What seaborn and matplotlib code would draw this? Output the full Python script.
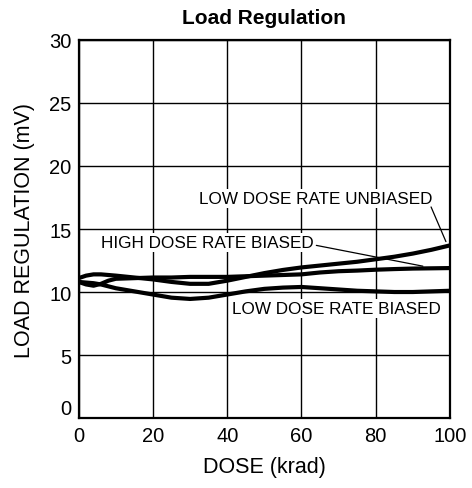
import matplotlib
matplotlib.use("Agg")
import matplotlib.pyplot as plt
import seaborn as sns
import pandas as pd

# values
doses = [0, 2, 4, 6, 8, 10, 15, 20, 25, 30, 35, 40, 45, 50, 55, 60, 65, 70, 75, 80, 85, 90, 95, 100]
low_unbiased = [11.1, 11.3, 11.4, 11.4, 11.35, 11.3, 11.15, 11.0, 10.8, 10.65, 10.65, 10.9,
                11.2, 11.5, 11.75, 11.95, 12.1, 12.25, 12.4, 12.6, 12.8, 13.05, 13.35, 13.7]
high_biased = [10.8, 10.6, 10.5, 10.65, 10.9, 11.05, 11.1, 11.15, 11.15, 11.2, 11.2, 11.2,
               11.25, 11.3, 11.35, 11.4, 11.55, 11.65, 11.7, 11.77, 11.82, 11.86, 11.88, 11.9]
low_biased = [10.8, 10.75, 10.7, 10.6, 10.45, 10.3, 10.05, 9.8, 9.55, 9.45, 9.55, 9.8,
              10.05, 10.25, 10.35, 10.4, 10.3, 10.2, 10.1, 10.05, 10.0, 10.0, 10.05, 10.1]
series_names = ["LOW DOSE RATE UNBIASED", "HIGH DOSE RATE BIASED", "LOW DOSE RATE BIASED"]
x_ticks = [0, 20, 40, 60, 80, 100]
y_ticks = [0, 5, 10, 15, 20, 25, 30]

df = pd.DataFrame({
    "dose": doses * 3,
    "reg": low_unbiased + high_biased + low_biased,
    "series": [series_names[0]] * len(doses) + [series_names[1]] * len(doses) + [series_names[2]] * len(doses),
})

sns.set_style("white")
plt.rcParams["font.family"] = ["Liberation Sans", "DejaVu Sans"]
plt.rcParams["text.color"] = "black"
plt.rcParams["axes.labelcolor"] = "black"

fig = plt.figure(figsize=(4.72, 4.89), dpi=100)
ax = fig.add_axes([0.1667, 0.1431, 0.7867, 0.7731])

sns.lineplot(data=df, x="dose", y="reg", hue="series", palette=["black"] * 3,
             linewidth=3.0, legend=False, ax=ax, zorder=3)

ax.set_xlim(0, 100)
ax.set_ylim(0, 30)
ax.set_xticks(x_ticks)
ax.set_yticks(y_ticks)
ax.grid(True, color="black", linewidth=1.0)
ax.set_axisbelow(True)
for s in ax.spines.values():
    s.set_color("black")
    s.set_linewidth(1.6)
ax.tick_params(length=0, labelsize=14.5, colors="black")
ax.tick_params(axis="x", pad=6)
ax.tick_params(axis="y", pad=5)
# the zero on the y axis sits a little higher in the original
ax.get_yticklabels()[0].set_va("bottom")

ax.set_title("Load Regulation", fontsize=15, fontweight="bold", pad=12, color="black")
ax.set_xlabel("DOSE (krad)", fontsize=15.5, labelpad=8)
ax.set_ylabel("LOAD REGULATION (mV)", fontsize=15.5, labelpad=10)

box = dict(facecolor="white", edgecolor="none", pad=1.5)
ax.text(63.9, 17.45, series_names[0], fontsize=12.3, ha="center", va="center", bbox=box, zorder=4)
ax.text(34.6, 13.9, series_names[1], fontsize=12.3, ha="center", va="center", bbox=box, zorder=4)
ax.text(69.3, 8.7, series_names[2], fontsize=12.3, ha="center", va="center", bbox=box, zorder=4)
ax.plot([94.9, 98.9], [16.75, 14.0], color="black", linewidth=0.9, zorder=4)
ax.plot([64.0, 92.7], [13.7, 12.05], color="black", linewidth=0.9, zorder=4)

fig.savefig("out.png", dpi=100)
